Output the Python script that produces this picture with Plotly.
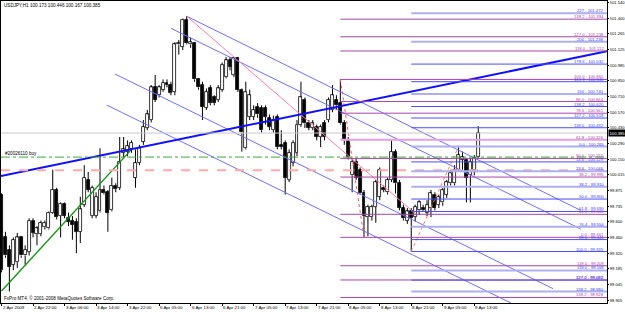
import plotly.graph_objects as go

# ---------------- data ----------------
title_text = "USDJPY,H1 100.173 100.446 100.167 100.385"

opens = [99.84, 99.46, 99.35, 99.22, 99.24, 99.46, 99.30, 99.33, 99.61, 99.49,
         99.49, 99.55, 99.54, 99.68, 99.88, 99.65, 99.76, 99.63, 99.61, 99.60,
         99.51, 99.75, 99.97, 99.65, 99.65, 99.69, 99.88, 99.86, 99.70, 99.92,
         99.90, 100.21, 100.22, 100.24, 99.99, 100.12, 100.31, 100.43, 100.50, 100.79,
         100.72, 100.77, 100.83, 100.81, 100.75, 101.17, 101.15, 101.39, 101.17, 101.18,
         100.86, 100.81, 100.61, 100.78, 100.70, 100.68, 100.77, 100.88, 101.03, 100.90,
         101.05, 100.77, 100.25, 100.53, 100.53, 100.62, 100.61, 100.61, 100.52, 100.41,
         100.53, 100.28, 100.30, 99.97, 100.12, 100.21, 100.46, 100.68, 100.47, 100.43,
         100.44, 100.35, 100.47, 100.50, 100.59, 100.68, 100.65, 100.47, 100.32, 100.01,
         100.13, 100.06, 99.85, 99.64, 99.64, 99.73, 99.82, 99.90, 99.86, 99.97,
         100.22, 99.94, 99.72, 99.61, 99.69, 99.64, 99.70, 99.72, 99.68, 99.72,
         99.84, 99.75, 99.77, 99.84, 99.94, 99.94, 100.06, 100.15, 100.15, 100.01,
         100.06, 100.173]
highs = [99.85, 99.51, 99.39, 99.46, 99.50, 99.47, 99.39, 99.63, 99.63, 99.56,
         99.61, 99.61, 99.69, 100.06, 99.90, 99.77, 99.77, 99.68, 99.65, 99.63,
         99.82, 100.10, 100.04, 99.92, 99.86, 100.25, 99.92, 99.88, 99.99, 99.94,
         100.35, 100.35, 100.32, 100.32, 100.24, 100.28, 100.50, 100.59, 100.81, 100.90,
         100.81, 100.86, 100.86, 100.84, 101.19, 101.21, 101.40, 101.42, 101.23, 101.19,
         100.87, 100.84, 100.78, 100.81, 100.72, 100.81, 101.01, 101.06, 101.06, 101.06,
         101.06, 100.78, 100.84, 100.77, 100.63, 100.65, 100.63, 100.63, 100.55, 100.54,
         100.55, 100.41, 100.32, 100.24, 100.32, 100.50, 100.84, 100.70, 100.50, 100.50,
         100.46, 100.46, 100.50, 100.70, 100.81, 100.72, 100.86, 100.50, 100.35, 100.16,
         100.16, 100.08, 99.88, 99.75, 99.75, 99.97, 100.08, 99.92, 99.99, 100.32,
         100.24, 99.97, 99.75, 99.72, 99.72, 99.75, 99.79, 99.75, 99.79, 99.88,
         99.86, 99.84, 99.90, 99.97, 100.06, 100.10, 100.265, 100.22, 100.16, 100.16,
         100.19, 100.446]
lows = [99.15, 99.28, 98.98, 99.17, 99.19, 99.28, 99.22, 99.30, 99.46, 99.39,
        99.47, 99.53, 99.53, 99.67, 99.62, 99.46, 99.63, 99.56, 99.44, 99.32,
        99.41, 99.73, 99.86, 99.63, 99.63, 99.68, 99.84, 99.51, 99.69, 99.86,
        99.88, 100.16, 100.18, 100.21, 99.90, 100.10, 100.28, 100.41, 100.48, 100.66,
        100.70, 100.75, 100.79, 100.72, 100.72, 101.08, 101.12, 101.17, 101.14, 100.84,
        100.77, 100.50, 100.59, 100.63, 100.63, 100.66, 100.75, 100.87, 100.94, 100.88,
        100.75, 100.22, 100.24, 100.50, 100.50, 100.52, 100.39, 100.46, 100.41, 100.39,
        100.24, 100.24, 99.84, 99.95, 100.09, 100.18, 100.44, 100.43, 100.41, 100.41,
        100.32, 100.26, 100.32, 100.48, 100.57, 100.59, 100.46, 100.28, 100.15, 99.86,
        99.97, 99.84, 99.461, 99.47, 99.61, 99.59, 99.79, 99.86, 99.84, 99.95,
        99.85, 99.70, 99.61, 99.58, 99.335, 99.60, 99.66, 99.69, 99.65, 99.64,
        99.70, 99.72, 99.74, 99.81, 99.92, 99.92, 100.04, 100.06, 99.77, 99.77,
        100.01, 100.167]
closes = [99.17, 99.30, 99.20, 99.44, 99.46, 99.30, 99.35, 99.61, 99.50, 99.54,
          99.59, 99.59, 99.68, 99.88, 99.64, 99.76, 99.65, 99.60, 99.57, 99.51,
          99.71, 99.99, 99.88, 99.90, 99.82, 99.88, 99.85, 99.68, 99.92, 99.89,
          100.13, 100.24, 100.27, 100.30, 100.12, 100.25, 100.44, 100.55, 100.79, 100.68,
          100.79, 100.83, 100.81, 100.74, 101.17, 101.18, 101.39, 101.18, 101.19, 100.86,
          100.79, 100.62, 100.75, 100.65, 100.65, 100.78, 100.99, 101.03, 100.97, 101.05,
          100.77, 100.39, 100.75, 100.72, 100.59, 100.55, 100.41, 100.53, 100.44, 100.50,
          100.26, 100.26, 99.99, 100.21, 100.30, 100.46, 100.70, 100.47, 100.43, 100.47,
          100.35, 100.44, 100.35, 100.68, 100.72, 100.63, 100.47, 100.32, 100.17, 100.13,
          99.99, 99.85, 99.65, 99.73, 99.73, 99.95, 100.06, 99.88, 99.97, 100.22,
          99.94, 99.72, 99.63, 99.69, 99.63, 99.73, 99.77, 99.70, 99.75, 99.85,
          99.72, 99.82, 99.88, 99.95, 100.03, 100.06, 100.19, 100.17, 99.99, 100.13,
          100.16, 100.385]

time_tick_bars = [0, 8, 16, 24, 32, 40, 48, 56, 64, 72, 80, 88, 96, 104, 112, 120]
time_tick_text = ["2 Apr 2009", "2 Apr 22:00", "3 Apr 06:00", "3 Apr 14:00", "3 Apr 22:00",
                  "6 Apr 05:00", "6 Apr 13:00", "6 Apr 21:00", "7 Apr 05:00", "7 Apr 13:00",
                  "7 Apr 21:00", "8 Apr 05:00", "8 Apr 13:00", "8 Apr 21:00", "9 Apr 05:00",
                  "9 Apr 13:00"]
price_ticks = [101.540, 101.400, 101.265, 101.125, 100.985, 100.850, 100.710, 100.570,
               100.430, 100.290, 100.150, 100.015, 99.875, 99.735, 99.600, 99.460,
               99.320, 99.185, 99.045, 98.905]

# Fibonacci (magenta), starts at bar 86
mag_start_bar = 86
mag_prices = [101.560, 101.394, 101.238, 101.112, 100.860, 100.664, 100.561, 100.326,
              100.160, 99.995, 99.665, 99.461, 99.209, 99.083, 98.928]
mag_labels = ["", "138.2 - 101.394", "127.0 - 101.238", "118.0 - 101.112", "100.0 - 100.860",
              "86.0 - 100.664", "78.6 - 100.561", "61.8 - 100.326", "50.0 - 100.160",
              "38.2 - 99.995", "14.6 - 99.665", "0.0 - 99.461", "118.0 - 99.209",
              "127.0 - 99.083", "138.2 - 98.928"]
mag_light = ["61.8 - 100.326"]

# Fibonacci (blue) retracement + expansion, start at bar 104
blue_start_bar = 104
ret_prices = [100.265, 100.129, 100.046, 99.910, 99.800, 99.690, 99.554, 99.441,
              99.335, 99.168, 99.082, 98.980]
ret_labels = ["0.0 - 100.265", "14.6 - 100.129", "23.6 - 100.046", "38.2 - 99.910",
              "50.0 - 99.800", "61.8 - 99.690", "76.4 - 99.554", "88.6 - 99.441",
              "100.0 - 99.335", "118.0 - 99.168", "127.2 - 99.082", "138.2 - 98.980"]
ret_light = [True, False, True, True, False, False, True, False, False, True, False, True]
ext_prices = [100.432, 100.518, 100.620, 100.730, 100.840, 100.996, 101.195, 101.446]
ext_labels = ["118.0 - 100.432", "127.2 - 100.518", "138.2 - 100.620", "150 - 100.740",
              "161.8 - 100.840", "178.6 - 101.032", "200 - 101.238", "227 - 101.472"]
ext_light = [False, False, False, True, False, False, True, True]

# trend lines: (bar, price) pairs
thick_bars, thick_prices = [-0.13, 153.68], [100.004, 101.110]
green_bars, green_prices = [0, 33], [98.985, 100.24]
pink_bars, pink_prices = [47, 105.4], [101.42, 99.66]
channel_bars = [[47, 147], [43, 147], [28.8, 140], [26.7, 129.3]]
channel_prices = [[101.42, 99.70], [101.313, 99.535], [100.908, 99.006], [100.633, 98.879]]
fibo_diag_mag = ([86, 92], [100.86, 99.461])
fibo_diag_blue = ([104, 116], [99.335, 100.265])

order_price = 100.172
order_label = "#20026110 buy"
stop_price = 100.055
copyright_text = "FxPro MT4, \u00a9 2001-2008 MetaQuotes Software Corp."

# ---------------- figure ----------------
X0, X1 = -0.13, 153.68
Y0, Y1 = 98.879, 101.555
FONT = "Liberation Sans"

fig = go.Figure()

n = len(opens)
idx = list(range(n))

# wicks (upper and lower segments so they don't cross white bodies)
wx, wy = [], []
for i in idx:
    top = max(opens[i], closes[i])
    bot = min(opens[i], closes[i])
    wx += [i, i, None, i, i, None]
    wy += [highs[i], top, None, bot, lows[i], None]
fig.add_trace(go.Scatter(x=wx, y=wy, mode="lines", line=dict(color="black", width=1),
                         hoverinfo="skip", showlegend=False))

bases = [min(o, c) for o, c in zip(opens, closes)]
heights = [max(abs(c - o), 0.002) for o, c in zip(opens, closes)]
fills = ["white" if c >= o else "black" for o, c in zip(opens, closes)]
fig.add_trace(go.Bar(x=idx, y=heights, base=bases, width=0.75,
                     marker=dict(color=fills, line=dict(color="black", width=0.8)),
                     hoverinfo="skip", showlegend=False))

def add_line(xs, ys, color, width=1, dash="solid"):
    fig.add_trace(go.Scatter(x=xs, y=ys, mode="lines",
                             line=dict(color=color, width=width, dash=dash),
                             hoverinfo="skip", showlegend=False))

# channel lines
for xs, ys in zip(channel_bars, channel_prices):
    add_line(xs, ys, "#6e6eff", 1)
add_line(pink_bars, pink_prices, "#ff7fa8", 1)
add_line(*fibo_diag_mag, "#ff5a5a", 1, "dot")
add_line(*fibo_diag_blue, "#ff7a50", 1, "dot")
add_line(green_bars, green_prices, "#149614", 1.4)
add_line(thick_bars, thick_prices, "#1010ff", 2)

shapes = []
annotations = []

def hline(x0, price, color, width, dash="solid"):
    shapes.append(dict(type="line", xref="x", yref="y", x0=x0, x1=X1, y0=price, y1=price,
                       line=dict(color=color, width=width, dash=dash), layer="above"))

def flabel(price, text, color):
    if text:
        annotations.append(dict(x=X1 - 0.45, y=price, xref="x", yref="y", text=text,
                                showarrow=False, xanchor="right", yanchor="bottom",
                                font=dict(size=4.2, color=color, family=FONT),
                                borderpad=0, yshift=-1))

# full-width lines
hline(X0, closes[-1], "#c8c8c8", 1)
hline(X0, order_price, "#3caa3c", 1, "dashdot")
hline(X0, stop_price, "#ffaaaa", 2, "dash")

for p, t in zip(mag_prices, mag_labels):
    light = t in mag_light
    hline(mag_start_bar, p, "#e0a2e0" if light else "#a845a8", 2 if light else 1)
    flabel(p, t, "#a845a8")
for p, t, lt in zip(ret_prices, ret_labels, ret_light):
    hline(blue_start_bar, p, "#aeaef2" if lt else "#4b4bff", 2 if lt else 1)
    flabel(p, t, "#3c3cff")
for p, t, lt in zip(ext_prices, ext_labels, ext_light):
    hline(blue_start_bar, p, "#aeaef2" if lt else "#4b4bff", 2 if lt else 1)
    flabel(p, t, "#3c3cff")

# time labels (left-aligned at their tick, MT4 style)
for b, t in zip(time_tick_bars, time_tick_text):
    annotations.append(dict(x=b, y=0, xref="x", yref="paper", text=t, showarrow=False,
                            xanchor="left", yanchor="top", xshift=0, yshift=-1,
                            font=dict(size=4.4, color="black", family=FONT), borderpad=0))

annotations.append(dict(x=0.004, y=1, xref="paper", yref="paper", text=title_text,
                        showarrow=False, xanchor="left", yanchor="top", yshift=-1,
                        font=dict(size=4.6, color="black", family=FONT), borderpad=0))
annotations.append(dict(x=0.005, y=order_price, xref="paper", yref="y", text=order_label,
                        showarrow=False, xanchor="left", yanchor="bottom",
                        font=dict(size=4.6, color="black", family=FONT), borderpad=0))
annotations.append(dict(x=0.003, y=0, xref="paper", yref="paper", text=copyright_text,
                        showarrow=False, xanchor="left", yanchor="bottom", yshift=1,
                        font=dict(size=4.6, color="black", family=FONT), borderpad=0))
annotations.append(dict(x=1, y=closes[-1], xref="paper", yref="y",
                        text="%.3f" % closes[-1], showarrow=False, xanchor="left",
                        yanchor="middle", xshift=1, bgcolor="black",
                        font=dict(size=4.2, color="white", family=FONT), borderpad=0.5))

fig.update_layout(
    width=625, height=312,
    margin=dict(l=1, r=18, t=1, b=9, pad=0),
    paper_bgcolor="white", plot_bgcolor="white",
    showlegend=False, bargap=0,
    shapes=shapes, annotations=annotations,
    font=dict(family=FONT, size=4.6, color="black"),
)
fig.update_xaxes(range=[X0, X1], tickmode="array", tickvals=time_tick_bars,
                 showticklabels=False,
                 showgrid=False, zeroline=False, showline=True, mirror=True,
                 linecolor="black", linewidth=1, ticks="outside", ticklen=2,
                 tickcolor="black", automargin=False, fixedrange=True)
fig.update_yaxes(range=[Y0, Y1], side="right", tickmode="array", tickvals=price_ticks,
                 ticktext=["%.3f" % v for v in price_ticks],
                 showgrid=False, zeroline=False, showline=True, mirror=True,
                 linecolor="black", linewidth=1, ticks="outside", ticklen=1,
                 tickcolor="black", tickfont=dict(size=4.1, family=FONT, color="black"),
                 automargin=False, fixedrange=True)

fig.write_html("out.html")
